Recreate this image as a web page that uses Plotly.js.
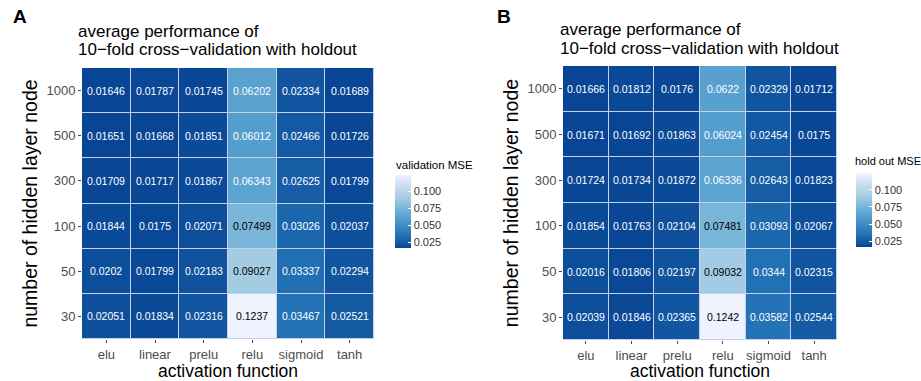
<!DOCTYPE html>
<html><head><meta charset="utf-8">
<script src="https://cdn.plot.ly/plotly-3.0.1.min.js"></script>
<style>html,body{margin:0;padding:0;background:#fff}</style>
</head><body>
<div id="chart" style="width:921px;height:381px"></div>
<script>
const activations = ["elu","linear","prelu","relu","sigmoid","tanh"];
const nodes = ["30","50","100","300","500","1000"];
// rows follow `nodes` order (30 at the bottom)
const validationMSE = [
  [0.02051,0.01834,0.02316,0.1237,0.03467,0.02521],
  [0.0202,0.01799,0.02183,0.09027,0.03337,0.02294],
  [0.01844,0.0175,0.02071,0.07499,0.03026,0.02037],
  [0.01709,0.01717,0.01867,0.06343,0.02625,0.01799],
  [0.01651,0.01668,0.01851,0.06012,0.02466,0.01726],
  [0.01646,0.01787,0.01745,0.06202,0.02334,0.01689]
];
const holdoutMSE = [
  [0.02039,0.01846,0.02365,0.1242,0.03582,0.02544],
  [0.02016,0.01806,0.02197,0.09032,0.0344,0.02315],
  [0.01854,0.01763,0.02104,0.07481,0.03093,0.02067],
  [0.01724,0.01734,0.01872,0.06336,0.02643,0.01823],
  [0.01671,0.01692,0.01863,0.06024,0.02454,0.0175],
  [0.01666,0.01812,0.0176,0.0622,0.02329,0.01712]
];
const cbTicks = [0.025,0.050,0.075,0.100];
const cbTickText = ["0.025","0.050","0.075","0.100"];

const FONT = "Liberation Sans, Arial, Helvetica, sans-serif";
const blues = [
  [0,"#084594"],[0.1667,"#2171B5"],[0.3333,"#4292C6"],[0.5,"#6BAED6"],
  [0.6667,"#9ECAE1"],[0.8333,"#C6DBEF"],[1,"#EFF3FF"]
];

function heat(z, xa, ya, cbx, cbTop, cbBottom) {
  return {
    type: "heatmap", x: activations, y: nodes, z: z,
    xaxis: xa, yaxis: ya, colorscale: blues, xgap: 1, ygap: 1,
    hoverinfo: "skip",
    colorbar: {
      x: cbx, xanchor: "left", y: 1 - cbTop/381, yanchor: "top",
      lenmode: "pixels", len: cbBottom - cbTop, thicknessmode: "pixels", thickness: 16,
      xpad: 0, ypad: 0,
      outlinewidth: 0, ticks: "inside", ticklen: 3, tickcolor: "#ffffff",
      tickvals: cbTicks, ticktext: cbTickText,
      tickfont: {family: FONT, size: 11, color: "#333333"}
    }
  };
}

const traces = [
  heat(validationMSE, "x", "y", 395/921, 175, 248),
  heat(holdoutMSE, "x2", "y2", 856/921, 173, 247)
];

const annotations = [];
function cellText(z, xr, yr) {
  for (let i = 0; i < nodes.length; i++) {
    for (let j = 0; j < activations.length; j++) {
      const v = z[i][j];
      annotations.push({
        x: j, y: i, xref: xr, yref: yr, text: String(v),
        showarrow: false,
        font: {family: FONT, size: 10.5, color: v > 0.07 ? "#000000" : "#ffffff"}
      });
    }
  }
}
cellText(validationMSE, "x", "y");
cellText(holdoutMSE, "x2", "y2");

function txt(text, x, y, size, opts) {
  return Object.assign({
    text: text, x: x/921, y: 1 - y/381, xref: "paper", yref: "paper",
    showarrow: false, font: {family: FONT, size: size, color: "#000"}
  }, opts || {});
}
const L = {xanchor: "left", yanchor: "middle"};
annotations.push(txt("<b>A</b>", 11, 16, 19, L));
annotations.push(txt("<b>B</b>", 495, 16, 19, L));
annotations.push(txt("average performance of", 76, 31, 17, L));
annotations.push(txt("10\u2212fold cross\u2212validation with holdout", 76, 49, 17, L));
annotations.push(txt("average performance of", 558, 30, 17, L));
annotations.push(txt("10\u2212fold cross\u2212validation with holdout", 558, 48, 17, L));
annotations.push(txt("validation MSE", 394, 165, 11.5, L));
annotations.push(txt("hold out MSE", 853, 161, 11, L));

const tickFont = {family: FONT, size: 13, color: "#4D4D4D"};
function xaxis(dom, anchor) {
  return {
    domain: dom, anchor: anchor, type: "category",
    categoryorder: "array", categoryarray: activations,
    ticks: "outside", ticklen: 3, tickcolor: "#4D4D4D", tickfont: tickFont,
    showgrid: false, zeroline: false, showline: false,
    title: {text: "activation function", font: {family: FONT, size: 17.5, color: "#000"}, standoff: 2}
  };
}
function yaxis(dom, anchor) {
  return {
    domain: dom, anchor: anchor, type: "category",
    categoryorder: "array", categoryarray: nodes,
    ticks: "outside", ticklen: 3, tickcolor: "#4D4D4D", tickfont: tickFont,
    showgrid: false, zeroline: false, showline: false,
    title: {text: "number of hidden layer node", font: {family: FONT, size: 19.5, color: "#000"}, standoff: 3}
  };
}

const layout = {
  width: 921, height: 381,
  margin: {l: 0, r: 0, t: 0, b: 0},
  paper_bgcolor: "#ffffff", plot_bgcolor: "#c4d2e8",
  font: {family: FONT},
  xaxis: xaxis([82/921, 374/921], "y"),
  yaxis: yaxis([(381-339)/381, (381-68)/381], "x"),
  xaxis2: xaxis([563/921, 837/921], "y2"),
  yaxis2: yaxis([(381-340)/381, (381-66)/381], "x2"),
  annotations: annotations,
  showlegend: false
};

Plotly.newPlot("chart", traces, layout, {displayModeBar: false, staticPlot: true});
</script>
</body></html>
